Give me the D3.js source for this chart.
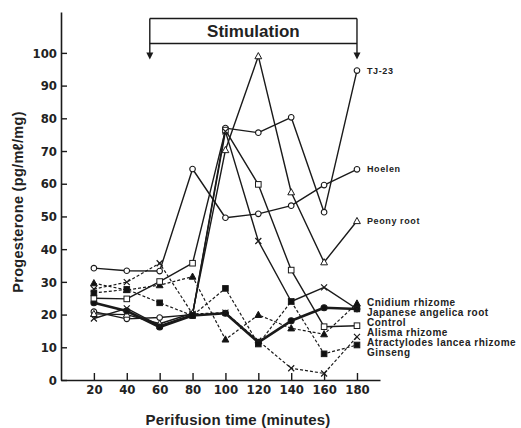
<!DOCTYPE html>
<html>
<head>
<meta charset="utf-8">
<script src="https://cdn.jsdelivr.net/npm/d3@7/dist/d3.min.js"></script>
<style>
  html, body { margin: 0; padding: 0; background: #fff; }
  svg { display: block; }
  .tick text { font-family: "Liberation Sans Narrow", "DejaVu Sans Condensed", sans-serif; font-size: 13px; font-weight: bold; fill: #222; }
  .lbl { font-family: "Liberation Sans", Arial, sans-serif; font-weight: bold; fill: #222; }
</style>
</head>
<body>
<svg id="chart" width="521" height="428"></svg>
<script>
// Perifusion sampling times (minutes)
const times = [20, 40, 60, 80, 100, 120, 140, 160, 180];
const xTicks = [20, 40, 60, 80, 100, 120, 140, 160, 180];
const yTicks = [0, 10, 20, 30, 40, 50, 60, 70, 80, 90, 100];

// Progesterone release (pg/mℓ/mg) per treatment
const tj23       = [20.9, 18.7, 19.1, 20.0, 77.0, 75.6, 80.3, 51.3, 94.6];
const hoelen     = [34.2, 33.4, 33.3, 64.5, 49.6, 50.8, 53.3, 59.6, 64.4];
const peonyRoot  = [20.2, 20.0, 17.2, 20.4, 70.3, 99.0, 57.4, 36.0, 48.6];
const cnidium    = [29.6, 27.5, 29.0, 31.6, 12.4, 19.9, 15.8, 14.0, 23.4];
const angelica   = [23.6, 21.1, 16.2, 19.7, 20.4, 11.5, 18.1, 22.1, 21.7];
const control    = [25.0, 24.8, 30.1, 35.7, 76.4, 59.8, 33.6, 16.3, 16.6];
const alisma     = [18.8, 21.9, 16.6, 20.0, 76.0, 42.5, 24.0, 28.3, 21.7];
const atractylodes = [27.8, 29.9, 35.7, 20.2, 20.6, 12.0, 3.6, 2.0, 13.2];
const ginseng    = [26.6, 27.7, 23.6, 19.7, 28.0, 11.0, 24.0, 8.0, 10.7];

const seriesNames = ["TJ-23", "Hoelen", "Peony root", "Cnidium rhizome", "Japanese angelica root",
                     "Control", "Alisma rhizome", "Atractylodes lancea rhizome", "Ginseng"];

// Stimulation period (minutes)
const stimulation = [54, 180];

const series = [
  { name: seriesNames[0], values: tj23,        marker: "circle",   fill: "#fff",  dash: null,  width: 1.4 },
  { name: seriesNames[1], values: hoelen,      marker: "circle",   fill: "#fff",  dash: null,  width: 1.4 },
  { name: seriesNames[2], values: peonyRoot,   marker: "triangle", fill: "#fff",  dash: null,  width: 1.4 },
  { name: seriesNames[3], values: cnidium,     marker: "triangle", fill: "#111",  dash: "3,2", width: 1.2 },
  { name: seriesNames[4], values: angelica,    marker: "circle",   fill: "#111",  dash: null,  width: 2.6 },
  { name: seriesNames[5], values: control,     marker: "square",   fill: "#fff",  dash: null,  width: 1.4 },
  { name: seriesNames[6], values: alisma,      marker: "cross",    fill: "none",  dash: null,  width: 1.4 },
  { name: seriesNames[7], values: atractylodes,marker: "cross",    fill: "none",  dash: "3,2", width: 1.2 },
  { name: seriesNames[8], values: ginseng,     marker: "square",   fill: "#111",  dash: "3,2", width: 1.2 }
];

// End-of-line labels: vertical positions in px for the crowded lower group
const labelY = {
  "TJ-23": null, "Hoelen": null, "Peony root": null,
  "Cnidium rhizome": 302, "Japanese angelica root": 312, "Control": 322,
  "Alisma rhizome": 332, "Atractylodes lancea rhizome": 342, "Ginseng": 352
};

const svg = d3.select("#chart");
const x = d3.scaleLinear().domain([0, 194]).range([61, 380]);
const y = d3.scaleLinear().domain([0, 112.5]).range([380, 12]);

const ink = "#1a1a1a";

// Axes
const gx = svg.append("g").attr("transform", `translate(0,${y(0)})`)
  .call(d3.axisBottom(x).tickValues(xTicks).tickSizeInner(-7).tickSizeOuter(0).tickPadding(5));
const gy = svg.append("g").attr("transform", `translate(${x(0)},0)`)
  .call(d3.axisLeft(y).tickValues(yTicks).tickSizeInner(-6).tickSizeOuter(0).tickPadding(4));
[gx, gy].forEach(g => {
  g.selectAll("path.domain").attr("stroke", ink).attr("stroke-width", 1.6);
  g.selectAll(".tick line").attr("stroke", ink).attr("stroke-width", 1.4);
});

// Axis titles
svg.append("text").attr("class", "lbl")
  .attr("x", 238).attr("y", 425).attr("text-anchor", "middle")
  .style("font-size", "15px").style("letter-spacing", "0.2px").text("Perifusion time (minutes)");
svg.append("text").attr("class", "lbl")
  .attr("transform", `translate(23,202) rotate(-90)`).attr("text-anchor", "middle")
  .style("font-size", "14.5px").style("letter-spacing", "0.3px").text("Progesterone (pg/mℓ/mg)");

// Stimulation bracket
const sx0 = x(stimulation[0]), sx1 = x(stimulation[1]);
const stim = svg.append("g").attr("stroke", ink).attr("stroke-width", 1.4).attr("fill", "none");
stim.append("line").attr("x1", sx0).attr("x2", sx1).attr("y1", 18.5).attr("y2", 18.5);
stim.append("line").attr("x1", sx0).attr("x2", sx1).attr("y1", 43.5).attr("y2", 43.5);
[sx0, sx1].forEach(sx => {
  stim.append("line").attr("x1", sx).attr("x2", sx).attr("y1", 18.5).attr("y2", 54);
  svg.append("path").attr("d", `M${sx - 3.5},52.5 L${sx + 3.5},52.5 L${sx},59.5 Z`).attr("fill", ink);
});
svg.append("text").attr("class", "lbl")
  .attr("x", (sx0 + sx1) / 2).attr("y", 37).attr("text-anchor", "middle")
  .style("font-size", "17px").text("Stimulation");

// Lines
const line = d3.line().x((d, i) => x(times[i])).y(d => y(d));
const gLines = svg.append("g");
series.forEach(s => {
  gLines.append("path").datum(s.values)
    .attr("d", line).attr("fill", "none")
    .attr("stroke", ink).attr("stroke-width", s.width)
    .attr("stroke-dasharray", s.dash)
    .attr("stroke-linejoin", "round");
});

// Markers
const gMarks = svg.append("g");
series.forEach(s => {
  s.values.forEach((v, i) => {
    const cx = x(times[i]), cy = y(v);
    const g = gMarks.append("g").attr("transform", `translate(${cx},${cy})`);
    if (s.marker === "circle") {
      g.append("circle").attr("r", s.fill === "#fff" ? 2.8 : 3).attr("fill", s.fill)
        .attr("stroke", ink).attr("stroke-width", 1.1);
    } else if (s.marker === "square") {
      g.append("rect").attr("x", -2.8).attr("y", -2.8).attr("width", 5.6).attr("height", 5.6)
        .attr("fill", s.fill).attr("stroke", ink).attr("stroke-width", 1);
    } else if (s.marker === "triangle") {
      g.append("path").attr("d", "M0,-3.6 L3.4,2.6 L-3.4,2.6 Z")
        .attr("fill", s.fill).attr("stroke", ink).attr("stroke-width", 1);
    } else {
      g.append("path").attr("d", "M-3,-3 L3,3 M-3,3 L3,-3")
        .attr("stroke", ink).attr("stroke-width", 1.2);
    }
  });
});

// Series labels at the end of each line
series.forEach(s => {
  const last = s.values[s.values.length - 1];
  const ly = labelY[s.name] != null ? labelY[s.name] : y(last);
  const big = labelY[s.name] == null;
  svg.append("text").attr("class", "lbl")
    .attr("x", 367).attr("y", ly).attr("dy", "0.35em")
    .style("font-size", big ? "9px" : "10px")
    .style("letter-spacing", big ? "0.6px" : "0.5px")
    .text(s.name);
});
</script>
</body>
</html>
